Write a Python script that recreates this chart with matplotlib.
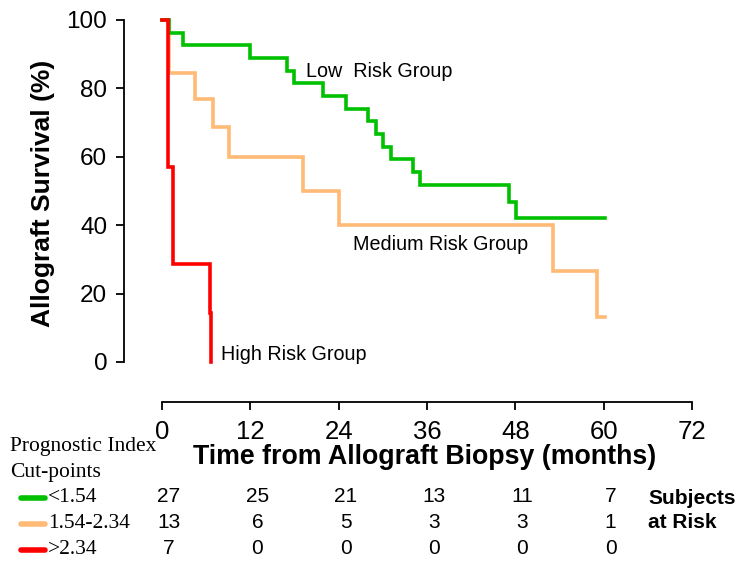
import matplotlib
matplotlib.use("Agg")
import matplotlib.pyplot as plt
from matplotlib.lines import Line2D

# ---- data ----
low_t = [0, 1.0, 2.9, 12.0, 17.0, 17.9, 21.9, 25.0, 28.0, 29.1, 30.0, 31.1, 34.1, 35.1, 47.1, 48.1, 60.2]
low_s = [100, 96.3, 92.6, 88.9, 85.2, 81.5, 77.8, 74.1, 70.4, 66.7, 63.0, 59.3, 55.6, 51.9, 46.7, 42.2, 42.2]

med_t = [0, 1.0, 4.5, 6.9, 9.1, 19.1, 24.1, 53.1, 59.1, 60.2]
med_s = [100, 84.6, 76.9, 68.8, 60.0, 50.0, 40.0, 26.7, 13.3, 13.3]

high_t = [0, 0.85, 1.5, 6.55, 6.65]
high_s = [100, 57.1, 28.6, 14.3, 0]

x_ticks = [0, 12, 24, 36, 48, 60, 72]
y_ticks = [0, 20, 40, 60, 80, 100]
risk_times = [0, 12, 24, 36, 48, 60]
risk_low = [27, 25, 21, 13, 11, 7]
risk_med = [13, 6, 5, 3, 3, 1]
risk_high = [7, 0, 0, 0, 0, 0]
group_names = ["<1.54", "1.54-2.34", ">2.34"]

GREEN = "#00C000"
ORANGE = "#FFBA75"
RED = "#FF0000"

SANS = ["Liberation Sans", "DejaVu Sans"]
SERIF = ["Liberation Serif", "DejaVu Serif"]

W, H = 738, 564
fig = plt.figure(figsize=(W / 100, H / 100), dpi=100)

def fx(px):
    return px / W

def fy(py):
    return 1 - py / H

PX2PT = 72 / 100

# axes box: x 0..72 -> px 162..692, y 0..100 -> px 362..20
ax = fig.add_axes([fx(162), fy(362), fx(692) - fx(162), fy(20) - fy(362)])
ax.set_xlim(0, 72)
ax.set_ylim(0, 100)

lw = 2.6
ax.step(med_t, med_s, where="post", color=ORANGE, lw=lw, clip_on=False, solid_joinstyle="miter")
ax.step(low_t, low_s, where="post", color=GREEN, lw=lw, clip_on=False, solid_joinstyle="miter")
ax.step(high_t, high_s, where="post", color=RED, lw=lw, clip_on=False, solid_joinstyle="miter")

for s in ["top", "right"]:
    ax.spines[s].set_visible(False)
ax.spines["left"].set_position(("outward", 38 * PX2PT))
ax.spines["bottom"].set_position(("outward", 40 * PX2PT))
ax.spines["left"].set_bounds(0, 100)
ax.spines["bottom"].set_bounds(0, 72)
for s in ["left", "bottom"]:
    ax.spines[s].set_linewidth(1.3)

ax.set_xticks(x_ticks)
ax.set_yticks(y_ticks)
ax.tick_params(axis="both", direction="out", length=6, width=1.3, colors="black")
ax.tick_params(axis="y", pad=6)
ax.tick_params(axis="x", pad=7)
for lab in ax.get_yticklabels():
    lab.set_fontfamily(SANS)
    lab.set_fontsize(17.5)
for lab in ax.get_xticklabels():
    lab.set_fontfamily(SANS)
    lab.set_fontsize(18.5)

fig.text(fx(43), fy(193), "Allograft Survival (%)", rotation=90, ha="center", va="center",
         fontfamily=SANS, fontsize=19, fontweight="bold")

fig.text(fx(425), fy(457), "Time from Allograft Biopsy (months)", ha="center", va="center",
         fontfamily=SANS, fontsize=19.3, fontweight="bold")

# group annotations
ax.text(19.6, 84.8, "Low  Risk Group", fontfamily=SANS, fontsize=14.2, va="center", ha="left")
ax.text(26.0, 34.4, "Medium Risk Group", fontfamily=SANS, fontsize=14.2, va="center", ha="left")
ax.text(8.0, 2.3, "High Risk Group", fontfamily=SANS, fontsize=14.2, va="center", ha="left")

# number-at-risk table
fig.text(fx(10), fy(447), "Prognostic Index", fontfamily=SERIF, fontsize=15.5, va="center", ha="left")
fig.text(fx(10), fy(472), "Cut-points", fontfamily=SERIF, fontsize=15.5, va="center", ha="left")

row_y = [497, 523, 549]
colors = [GREEN, ORANGE, RED]
rows = [risk_low, risk_med, risk_high]
for yy, col, name, vals in zip(row_y, colors, group_names, rows):
    fig.add_artist(Line2D([fx(21), fx(45)], [fy(yy + 1), fy(yy + 1)], color=col, lw=4,
                          solid_capstyle="round", transform=fig.transFigure))
    fig.text(fx(48), fy(yy), name, fontfamily=SERIF, fontsize=15.5, va="center", ha="left")
    for t, v in zip(risk_times, vals):
        xp = ax.transData.transform((t, 0))[0]
        fig.text((xp + 7) / W, fy(yy), str(v), fontfamily=SANS, fontsize=15,
                 va="center", ha="center")

fig.text(fx(648), fy(498), "Subjects", fontfamily=SANS, fontsize=15, fontweight="bold",
         va="center", ha="left")
fig.text(fx(648), fy(523), "at Risk", fontfamily=SANS, fontsize=15, fontweight="bold",
         va="center", ha="left")

fig.savefig("out.png", dpi=100)
